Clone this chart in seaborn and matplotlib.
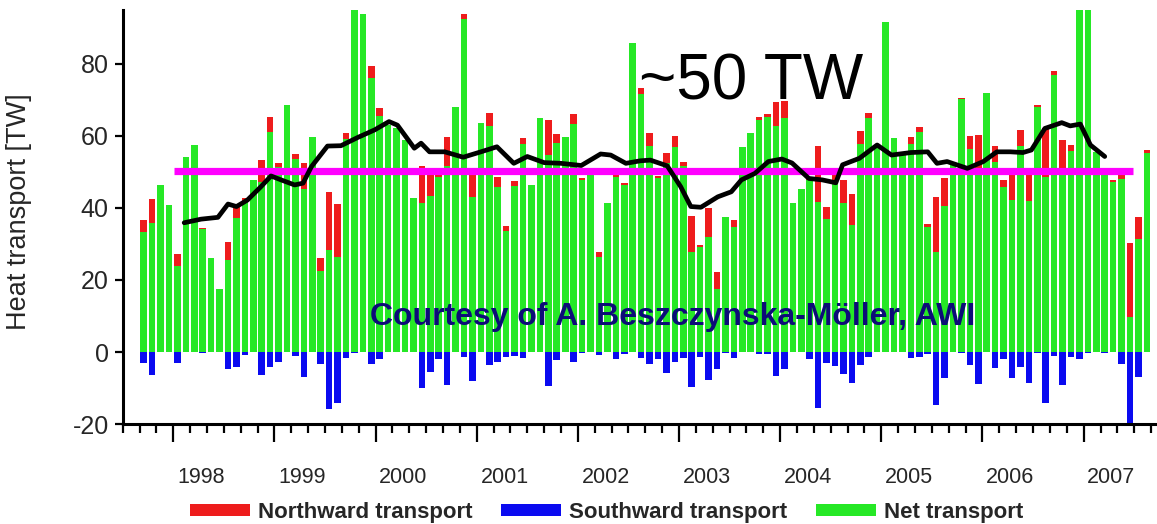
import numpy as np
import pandas as pd
import matplotlib
matplotlib.use("Agg")
import matplotlib.pyplot as plt
import seaborn as sns
from matplotlib.patches import Patch
from matplotlib import font_manager

# ---------------- data (monthly, Sep 1997 .. Aug 2007) ----------------
net_transport = [
    33.4, 35.9, 46.4, 40.8, 24.0, 54.1, 57.4, 34.2, 26.0, 17.4, 25.6, 37.1,
    41.8, 47.8, 47.3, 61.0, 51.5, 68.6, 53.5, 45.2, 59.8, 22.6, 28.3, 26.5,
    59.1, 98.0, 93.9, 76.0, 65.6, 63.0, 62.1, 58.9, 42.7, 41.5, 43.3, 48.7,
    51.7, 68.0, 92.4, 43.0, 63.7, 62.8, 45.7, 33.6, 46.2, 57.7, 46.4, 64.9,
    54.7, 58.1, 59.7, 63.2, 47.8, 49.6, 26.5, 41.3, 48.7, 46.4, 85.7, 71.6,
    57.3, 48.2, 52.4, 57.0, 51.8, 27.9, 29.1, 32.0, 17.5, 37.6, 34.8, 57.0,
    60.9, 64.4, 65.4, 62.8, 64.9, 41.3, 45.2, 47.8, 41.8, 36.9, 47.5, 41.3,
    35.3, 57.7, 65.0, 57.0, 91.6, 59.4, 55.2, 57.9, 61.2, 34.8, 27.9, 40.6,
    52.0, 70.3, 56.4, 50.5, 72.0, 52.9, 45.7, 42.2, 57.3, 41.9, 68.1, 48.7,
    76.9, 49.2, 55.9, 98.0, 98.0, 55.6, 51.0, 47.2, 48.1, 9.8, 31.3, 55.2,
]
northward_transport = [
    36.7, 42.4, 46.4, 40.8, 27.1, 54.1, 57.4, 34.4, 26.0, 17.4, 30.5, 40.4,
    42.7, 47.8, 53.3, 65.2, 52.4, 68.6, 54.9, 52.4, 59.8, 26.0, 44.5, 41.1,
    60.9, 98.5, 93.9, 79.5, 67.7, 63.0, 62.1, 58.9, 42.7, 51.8, 49.2, 49.6,
    59.8, 68.0, 93.9, 49.6, 63.7, 66.5, 48.7, 35.0, 47.5, 59.5, 46.4, 64.9,
    64.3, 60.5, 59.7, 66.1, 48.2, 49.6, 27.7, 41.3, 49.2, 47.0, 85.7, 73.2,
    60.9, 49.0, 55.2, 60.0, 52.7, 37.8, 29.7, 39.9, 22.3, 37.6, 36.7, 57.0,
    60.9, 65.2, 66.1, 69.5, 69.7, 41.3, 45.2, 48.5, 57.3, 40.2, 50.5, 47.8,
    44.0, 61.5, 66.5, 57.0, 91.6, 59.4, 55.2, 59.8, 62.6, 35.6, 43.0, 48.2,
    52.0, 70.5, 60.0, 60.3, 72.0, 57.3, 47.8, 49.6, 61.7, 49.6, 68.6, 62.1,
    78.1, 58.9, 57.5, 98.0, 98.0, 55.6, 51.0, 47.9, 49.5, 30.2, 37.6, 56.1,
]
southward_transport = [
    -3.1, -6.4, 0.0, 0.0, -3.1, 0.0, 0.0, -0.3, 0.0, 0.0, -4.7, -4.1,
    -0.8, 0.0, -6.4, -4.1, -2.7, 0.0, -1.1, -7.0, 0.0, -3.3, -15.9, -14.3,
    -1.8, -0.3, 0.0, -3.3, -2.0, 0.0, 0.0, 0.0, 0.0, -9.9, -5.5, -2.0,
    -9.2, 0.0, -1.3, -8.0, 0.0, -3.6, -2.9, -1.3, -1.1, -1.8, 0.0, 0.0,
    -9.4, -2.2, 0.0, -2.9, -0.3, 0.0, -0.9, 0.0, -2.0, -0.6, 0.0, -1.8,
    -3.3, -2.0, -5.9, -2.7, -1.6, -9.6, -1.3, -7.8, -4.8, -0.3, -1.8, 0.0,
    0.0, -0.6, -0.6, -6.7, -4.8, 0.0, 0.0, -2.0, -15.6, -3.1, -3.8, -6.1,
    -8.5, -3.6, -1.3, 0.0, 0.0, 0.0, 0.0, -1.6, -1.3, -0.6, -14.7, -7.3,
    0.0, -0.3, -3.6, -8.9, 0.0, -4.5, -2.0, -7.3, -4.3, -8.5, -0.4, -14.3,
    -1.0, -9.2, -1.3, -2.0, -0.3, 0.0, -0.3, 0.0, -3.3, -19.8, -7.0, 0.0,
]
month_index = list(range(len(net_transport)))  # 0 = Sep 1997

# 12-month running mean curve
running_mean_month = [
    4.8, 6.8, 8.8, 10.0, 11.0, 12.3, 13.9, 15.1, 16.3, 17.9, 18.9, 19.9,
    21.8, 23.4, 25.4, 27.4, 29.1, 30.1, 31.1, 32.1, 32.9, 33.9, 35.7, 37.9,
    40.0, 41.9, 43.9, 45.5, 47.5, 49.5, 51.9, 54.2, 55.4, 57.2, 58.9, 60.1,
    62.1, 63.7, 64.9, 66.1, 68.1, 69.7, 70.9, 72.5, 74.1, 75.7, 76.9, 78.9,
    80.5, 82.1, 82.9, 84.9, 87.0, 88.7, 91.0, 93.0, 94.1, 95.3, 97.7, 99.6,
    101.2, 102.8, 104.3, 105.3, 106.9, 108.9, 109.9, 111.1, 112.3, 114.0,
]
running_mean_value = [
    35.9, 36.9, 37.4, 41.1, 40.4, 42.2, 45.9, 48.9, 47.8, 46.4, 46.9, 51.5,
    57.2, 57.3, 59.6, 61.7, 64.0, 63.0, 59.8, 56.6, 58.0, 55.6, 55.6, 54.1,
    55.6, 57.0, 52.4, 54.3, 52.6, 52.4, 51.8, 55.0, 54.7, 52.4, 53.1, 53.3,
    51.7, 45.9, 40.4, 40.2, 43.1, 44.5, 47.8, 49.6, 52.9, 53.6, 52.5, 48.2,
    47.8, 47.0, 52.0, 53.8, 57.5, 54.7, 55.4, 55.6, 52.4, 52.9, 51.0, 52.9,
    55.6, 55.6, 55.4, 56.1, 62.1, 63.7, 62.8, 63.3, 57.5, 54.3,
]

# long-term mean level (~50 TW) and its extent in months
mean_level_month = [3.6, 117.4]
mean_level_value = [50.4, 50.4]

year_labels = ["1998", "1999", "2000", "2001", "2002",
               "2003", "2004", "2005", "2006", "2007"]
legend_labels = ["Northward transport", "Southward transport", "Net transport"]
y_ticks = [-20, 0, 20, 40, 60, 80]

# ---------------- styling ----------------
RED = "#ee1c1c"
BLUE = "#0a0af0"
GREEN = "#26e826"
MAGENTA = "#ff00ff"
NAVY = "#0c0c78"

names = {f.name for f in font_manager.fontManager.ttflist}
NARROW = "Liberation Sans Narrow" if "Liberation Sans Narrow" in names else "Liberation Sans"

sns.set_theme(style="ticks")
plt.rcParams["font.family"] = ["Liberation Sans", "DejaVu Sans"]

df = pd.DataFrame({
    "month": month_index,
    "north": northward_transport,
    "south": southward_transport,
    "net": net_transport,
})

fig = plt.figure(figsize=(11.57, 5.24), dpi=100)
ax = fig.add_axes([0.106, 0.1908, 0.894, 0.7902])

common = dict(x="month", native_scale=True, width=0.78, saturation=1,
              errorbar=None, linewidth=0, ax=ax, zorder=2)
sns.barplot(data=df, y="north", color=RED, **common)
sns.barplot(data=df, y="net", color=GREEN, **common)
sns.barplot(data=df, y="south", color=BLUE, **common)

sns.lineplot(x=mean_level_month, y=mean_level_value, color=MAGENTA,
             linewidth=5.2, ax=ax, zorder=4, solid_capstyle="butt")
sns.lineplot(x=running_mean_month, y=running_mean_value, color="black",
             linewidth=3.4, ax=ax, zorder=5)

ax.set_xlim(-2.35, 120.2)
ax.set_ylim(-20, 95)

# x ticks: year boundaries (major), every 2 months (minor)
year_starts = [3.5 + 12 * k for k in range(len(year_labels))]
ax.set_xticks(year_starts)
ax.set_xticklabels([])
ax.set_xticks(np.arange(-2.5, 120.2, 2.0), minor=True)
ax.tick_params(axis="x", which="major", length=13, width=1.6, direction="out",
               color="black")
ax.tick_params(axis="x", which="minor", length=6.5, width=1.6, direction="out",
               color="black")
for lab, xs in zip(year_labels, year_starts):
    ax.text(xs + 3.3, -0.128, lab, transform=ax.get_xaxis_transform(),
            ha="center", va="center", fontsize=15.5, family=NARROW)

ax.set_yticks(y_ticks)
ax.set_yticklabels([str(v) for v in y_ticks], family=NARROW, fontsize=18)
ax.tick_params(axis="y", which="major", length=6, width=1.6, direction="out",
               pad=4, color="black")
ax.set_xlabel("")
ax.set_ylabel("Heat transport [TW]", fontsize=19.5)
ax.yaxis.set_label_coords(-0.088, 0.512)

for s in ["top", "right"]:
    ax.spines[s].set_visible(False)
for s in ["left", "bottom"]:
    ax.spines[s].set_linewidth(2.2)
    ax.spines[s].set_color("black")

ax.text(72.0, 70.0, "~50 TW", fontsize=46, ha="center", va="baseline",
        color="black", zorder=6)
ax.text(26.9, 7.5, "Courtesy of A. Beszczynska-M\u00f6ller, AWI",
        fontsize=23, fontweight="bold", color=NAVY, ha="left",
        va="baseline", zorder=6)

handles = [Patch(facecolor=RED, edgecolor="none"),
           Patch(facecolor=BLUE, edgecolor="none"),
           Patch(facecolor=GREEN, edgecolor="none")]
fig.legend(handles, legend_labels, loc="center", ncol=3,
           bbox_to_anchor=(0.524, 0.022), frameon=False,
           prop=dict(family=NARROW, weight="bold", size=16),
           handlelength=2.7, handleheight=0.5, handletextpad=0.35,
           columnspacing=1.3, borderpad=0.1)

fig.savefig("out.png", dpi=100)
